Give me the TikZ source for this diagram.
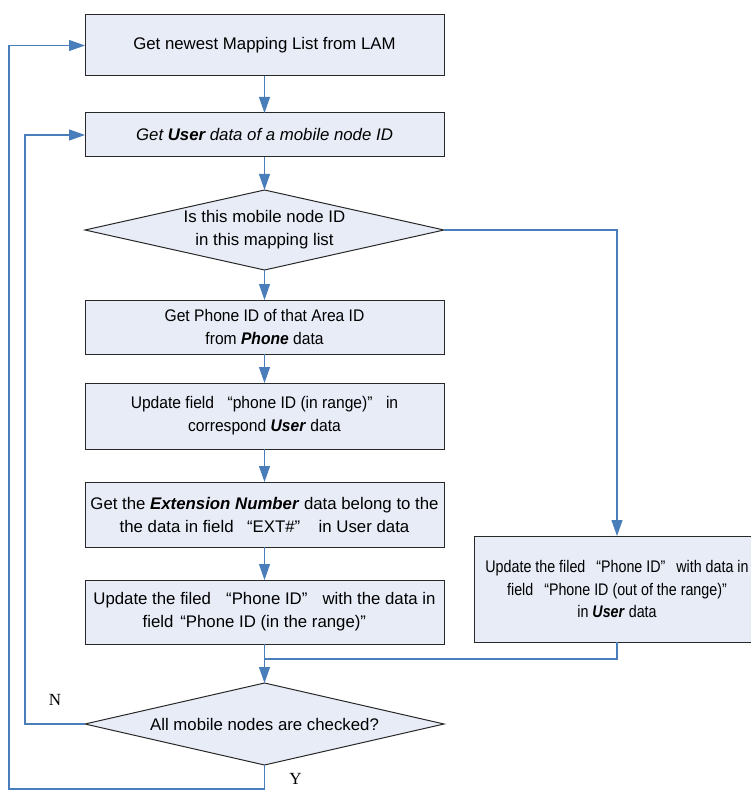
\documentclass[tikz,border=0pt]{standalone}
\usepackage{fontspec}
\setmainfont{Liberation Sans}
\newfontfamily\narrowfont[FakeStretch=0.93]{Liberation Sans}
\newfontfamily\tightfont[FakeStretch=0.85]{Liberation Sans}
\newfontfamily\serffont{Liberation Serif}
\usetikzlibrary{arrows.meta,calc,positioning,shapes.geometric}
\definecolor{fcfill}{RGB}{231,236,247}
\definecolor{fcline}{RGB}{74,126,187}
\definecolor{fcedge}{RGB}{40,40,40}
\newcommand{\fq}[2][0.8em]{\hspace{#1}“#2”\hspace{#1}}

\begin{document}
\begin{tikzpicture}[x=1pt,y=1pt,>={Triangle[length=16pt,width=11pt]},
    font=\fontsize{16.8}{23}\selectfont,node distance=33pt,every node/.style={align=center},
    box/.style={draw=fcedge,line width=1pt,fill=fcfill,minimum width=359pt,inner sep=2pt,outer sep=0pt},
    dec/.style={draw=fcedge,line width=1pt,fill=fcfill,diamond,aspect=4.49,minimum width=359pt,inner sep=0pt,outer sep=0pt},
    nar/.style={font=\narrowfont\fontsize{16.8}{23}\selectfont},
    yn/.style={font=\serffont\fontsize{17}{17}\selectfont,inner sep=0pt},
    flow/.style={draw=fcline,line width=1.1pt}]
    \useasboundingbox (0,0) rectangle (750,-791);
    \node[box,minimum height=61pt] (get) at (264.5,-45.5) {Get newest Mapping List from LAM};
    \node[box,minimum height=44pt,below=37pt of get] (user) {\itshape Get \textbf{User} data of a mobile node ID};
    \node[dec,minimum height=80pt,below=of user] (isin) {Is this mobile node ID\\in this mapping list};
    \node[box,nar,minimum height=54pt,below=30pt of isin] (phone) {Get Phone ID of that Area ID\\from \textbf{\textit{Phone}} data};
    \node[box,nar,minimum height=66pt,below=29pt of phone] (upd) {Update field\fq{phone ID (in range)}in\\correspond \textbf{\textit{User}} data};
    \node[box,minimum height=65pt,below=of upd] (ext) {Get the \textbf{\textit{Extension Number}} data belong to the\\the data in field\fq{EXT\#}\hspace{0.3em}in User data};
    \node[box,minimum height=64pt,below=of ext] (setin) {Update the filed\fq[0.9em]{Phone ID}with the data in\\field\hspace{0.4em}“Phone ID (in the range)”\hspace*{1.2em}};
    \node[dec,minimum height=82pt,below=39pt of setin] (done) {All mobile nodes are checked?};
    \node[box,font=\tightfont\fontsize{16.8}{22.5}\selectfont,minimum width=286pt,minimum height=106pt,right=30pt of setin.south east,anchor=south west,yshift=2pt] (outr) {Update the filed\fq[0.65em]{Phone ID}with data in\\field\fq[0.65em]{Phone ID (out of the range)}\\in \textbf{\textit{User}} data};
    \coordinate (join) at ($(setin.south)!0.385!(done.north)$);
    \node[yn] (nlab) at ($(done.west)+(-30,24)$) {N};
    \node[yn] (ylab) at ($(done.south)+(31,-14)$) {Y};
    \draw[flow,->] (get) -- (user);
    \draw[flow,->] (user) -- (isin);
    \draw[flow,->] (isin) -- (phone);
    \draw[flow,->] (phone) -- (upd);
    \draw[flow,->] (upd) -- (ext);
    \draw[flow,->] (ext) -- (setin);
    \draw[flow,->] (setin) -- (done);
    \draw[flow,->] (isin.east) -| (outr.north);
    \draw[flow] (outr.south) |- (join);
    % loops back
    \draw[flow,->] (done.west) -- ++(-60,0) |- (user.west);
    \draw[flow,->] (done.south) -- ++(0,-24) -| ($(get.west)+(-76,0)$) -- (get.west);
\end{tikzpicture}
\end{document}
